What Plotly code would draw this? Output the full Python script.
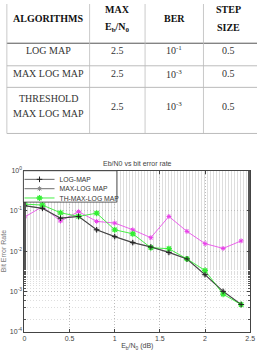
import plotly.graph_objects as go

# ---- table data ----
tbl_header = [["ALGORITHMS"], ["MAX", "E<sub>b</sub>/N<sub>0</sub>"], ["BER"], ["STEP", "SIZE"]]
tbl_algorithms = [["LOG MAP"], ["MAX LOG MAP"], ["THRESHOLD", "MAX LOG MAP"]]
tbl_max_ebn0 = ["2.5", "2.5", "2.5"]
tbl_ber = ["10<sup>-1</sup>", "10<sup>-3</sup>", "10<sup>-3</sup>"]
tbl_step = ["0.5", "0.5", "0.5"]

# ---- chart data ----
ebn0 = [0, 0.2, 0.4, 0.6, 0.8, 1.0, 1.2, 1.4, 1.6, 1.8, 2.0, 2.2, 2.4]
log_map = [0.135, 0.116, 0.066, 0.073, 0.034, 0.023, 0.0163, 0.0127, 0.0093, 0.0064, 0.0026, 0.001, 0.00047]
max_log_map = [0.135, 0.116, 0.066, 0.073, 0.034, 0.023, 0.0163, 0.0127, 0.0093, 0.0064, 0.0026, 0.001, 0.00047]
th_max_log_map = [0.148, 0.14, 0.09, 0.073, 0.088, 0.034, 0.027, 0.0122, 0.0115, 0.0064, 0.0033, 0.00085, 0.00047]
other_series = [0.07, 0.128, 0.056, 0.096, 0.055, 0.05, 0.034, 0.0216, 0.073, 0.031, 0.0154, 0.0117, 0.018]

y_tickvals = [1e-4, 1e-3, 1e-2, 1e-1, 1]
y_ticktext = ["10<sup>-4</sup>", "10<sup>-3</sup>", "10<sup>-2</sup>", "10<sup>-1</sup>", "10<sup>0</sup>"]

W, H = 262, 364


def px(x):
    return x / W


def py(y):
    return 1 - y / H


# table layout (pixels)
col_edges = [5, 90, 147, 207, 259]
row_edges = [0, 40, 63, 85, 132]
row_text_center = [15, 47, 71, 104]
line_gap = [18, 16, 16, 16]

shapes = []
annotations = []

# grid lines of the table
for i, yv in enumerate(row_edges[1:], start=1):
    shapes.append(dict(type="line", xref="paper", yref="paper", x0=px(col_edges[0]), x1=px(W),
                       y0=py(yv), y1=py(yv),
                       line=dict(color="#555" if i == 1 else "#aaa", width=1 if i == 1 else 0.8)))
for xv in col_edges[:4]:
    shapes.append(dict(type="line", xref="paper", yref="paper", x0=px(xv), x1=px(xv),
                       y0=py(0), y1=py(row_edges[-1]), line=dict(color="#bbb", width=0.8)))

rows = [tbl_header] + [[tbl_algorithms[r], [tbl_max_ebn0[r]], [tbl_ber[r]], [tbl_step[r]]] for r in range(3)]
for r, row in enumerate(rows):
    for c, lines in enumerate(row):
        cx = (col_edges[c] + col_edges[c + 1]) / 2
        n = len(lines)
        for k, txt in enumerate(lines):
            cy = row_text_center[r] + (k - (n - 1) / 2) * line_gap[r]
            t = "<b>" + txt + "</b>" if r == 0 else txt
            annotations.append(dict(text=t, x=px(cx), y=py(cy), xref="paper", yref="paper",
                                    xanchor="center", yanchor="middle", showarrow=False,
                                    font=dict(family="Liberation Serif", size=10,
                                              color="#111" if r == 0 else "#333")))

# chart title
annotations.append(dict(text="Eb/N0 vs bit error rate", x=px(139), y=py(163), xref="paper", yref="paper",
                        xanchor="center", yanchor="middle", showarrow=False,
                        font=dict(family="Liberation Sans", size=7, color="#444")))

# legend box
shapes.append(dict(type="rect", xref="paper", yref="paper", x0=px(22), x1=px(118), y0=py(170), y1=py(202),
                   fillcolor="white", line=dict(color="#333", width=0.8), layer="above"))

fig = go.Figure()

fig.add_trace(go.Scatter(x=ebn0, y=other_series, mode="lines+markers", showlegend=False,
                         line=dict(color="#e83ce8", width=0.8),
                         marker=dict(symbol="asterisk-open", size=4, line=dict(color="#e83ce8", width=1))))
fig.add_trace(go.Scatter(x=ebn0, y=max_log_map, name="MAX-LOG MAP", mode="lines+markers", legend="legend2",
                         line=dict(color="#8a8a8a", width=1.3),
                         marker=dict(symbol="asterisk-open", size=4, line=dict(color="black", width=1))))
fig.add_trace(go.Scatter(x=ebn0, y=th_max_log_map, name="TH-MAX-LOG MAP", mode="lines+markers", legend="legend3",
                         line=dict(color="#33ee33", width=0.9),
                         marker=dict(symbol="asterisk-open", size=5, line=dict(color="#33ee33", width=1.3))))
fig.add_trace(go.Scatter(x=ebn0, y=log_map, name="LOG-MAP", mode="lines+markers", legend="legend",
                         line=dict(color="#222", width=0.7),
                         marker=dict(symbol="cross-thin-open", size=4, line=dict(color="black", width=1))))

major_grid = dict(showgrid=True, gridcolor="#bdbdbd", griddash="1px,2px", gridwidth=0.7)


def leg(top_px):
    return dict(x=px(18), y=py(top_px), xanchor="left", yanchor="top", bgcolor="rgba(0,0,0,0)",
                borderwidth=0, font=dict(family="Liberation Sans", size=6.8, color="#333"))


fig.update_layout(
    width=W, height=H, margin=dict(l=0, r=0, t=0, b=0),
    paper_bgcolor="white", plot_bgcolor="white",
    font=dict(family="Liberation Sans", size=7, color="#333"),
    shapes=shapes, annotations=annotations,
    xaxis=dict(domain=[px(23), px(255)], range=[0, 2.5], dtick=0.5, ticks="inside", ticklen=3,
               tickcolor="#444", showline=True, linecolor="#444", linewidth=1, mirror="ticks",
               zeroline=False, anchor="y", tickfont=dict(size=7, color="#444"),
               title=dict(text="E<sub>b</sub>/N<sub>0</sub> (dB)", standoff=2, font=dict(size=7, color="#444")),
               **major_grid),
    yaxis=dict(domain=[py(334), py(170)], type="log", range=[-4, 0],
               tickvals=y_tickvals, ticktext=y_ticktext, ticks="inside", ticklen=3, tickcolor="#444",
               showline=True, linecolor="#444", linewidth=1, mirror="ticks", zeroline=False,
               tickfont=dict(size=7, color="#444"),
               title=dict(text="Bit Error Rate", standoff=2, font=dict(size=7, color="#777")),
               minor=dict(ticks="inside", ticklen=2, tickcolor="#555", showgrid=True,
                          gridcolor="#dedede", griddash="1px,2px", gridwidth=0.7),
               **major_grid),
    legend=leg(178.5 - 14.5),
    legend2=leg(188 - 14.5),
    legend3=leg(197.5 - 14.5),
)

fig.write_html("out.html")
